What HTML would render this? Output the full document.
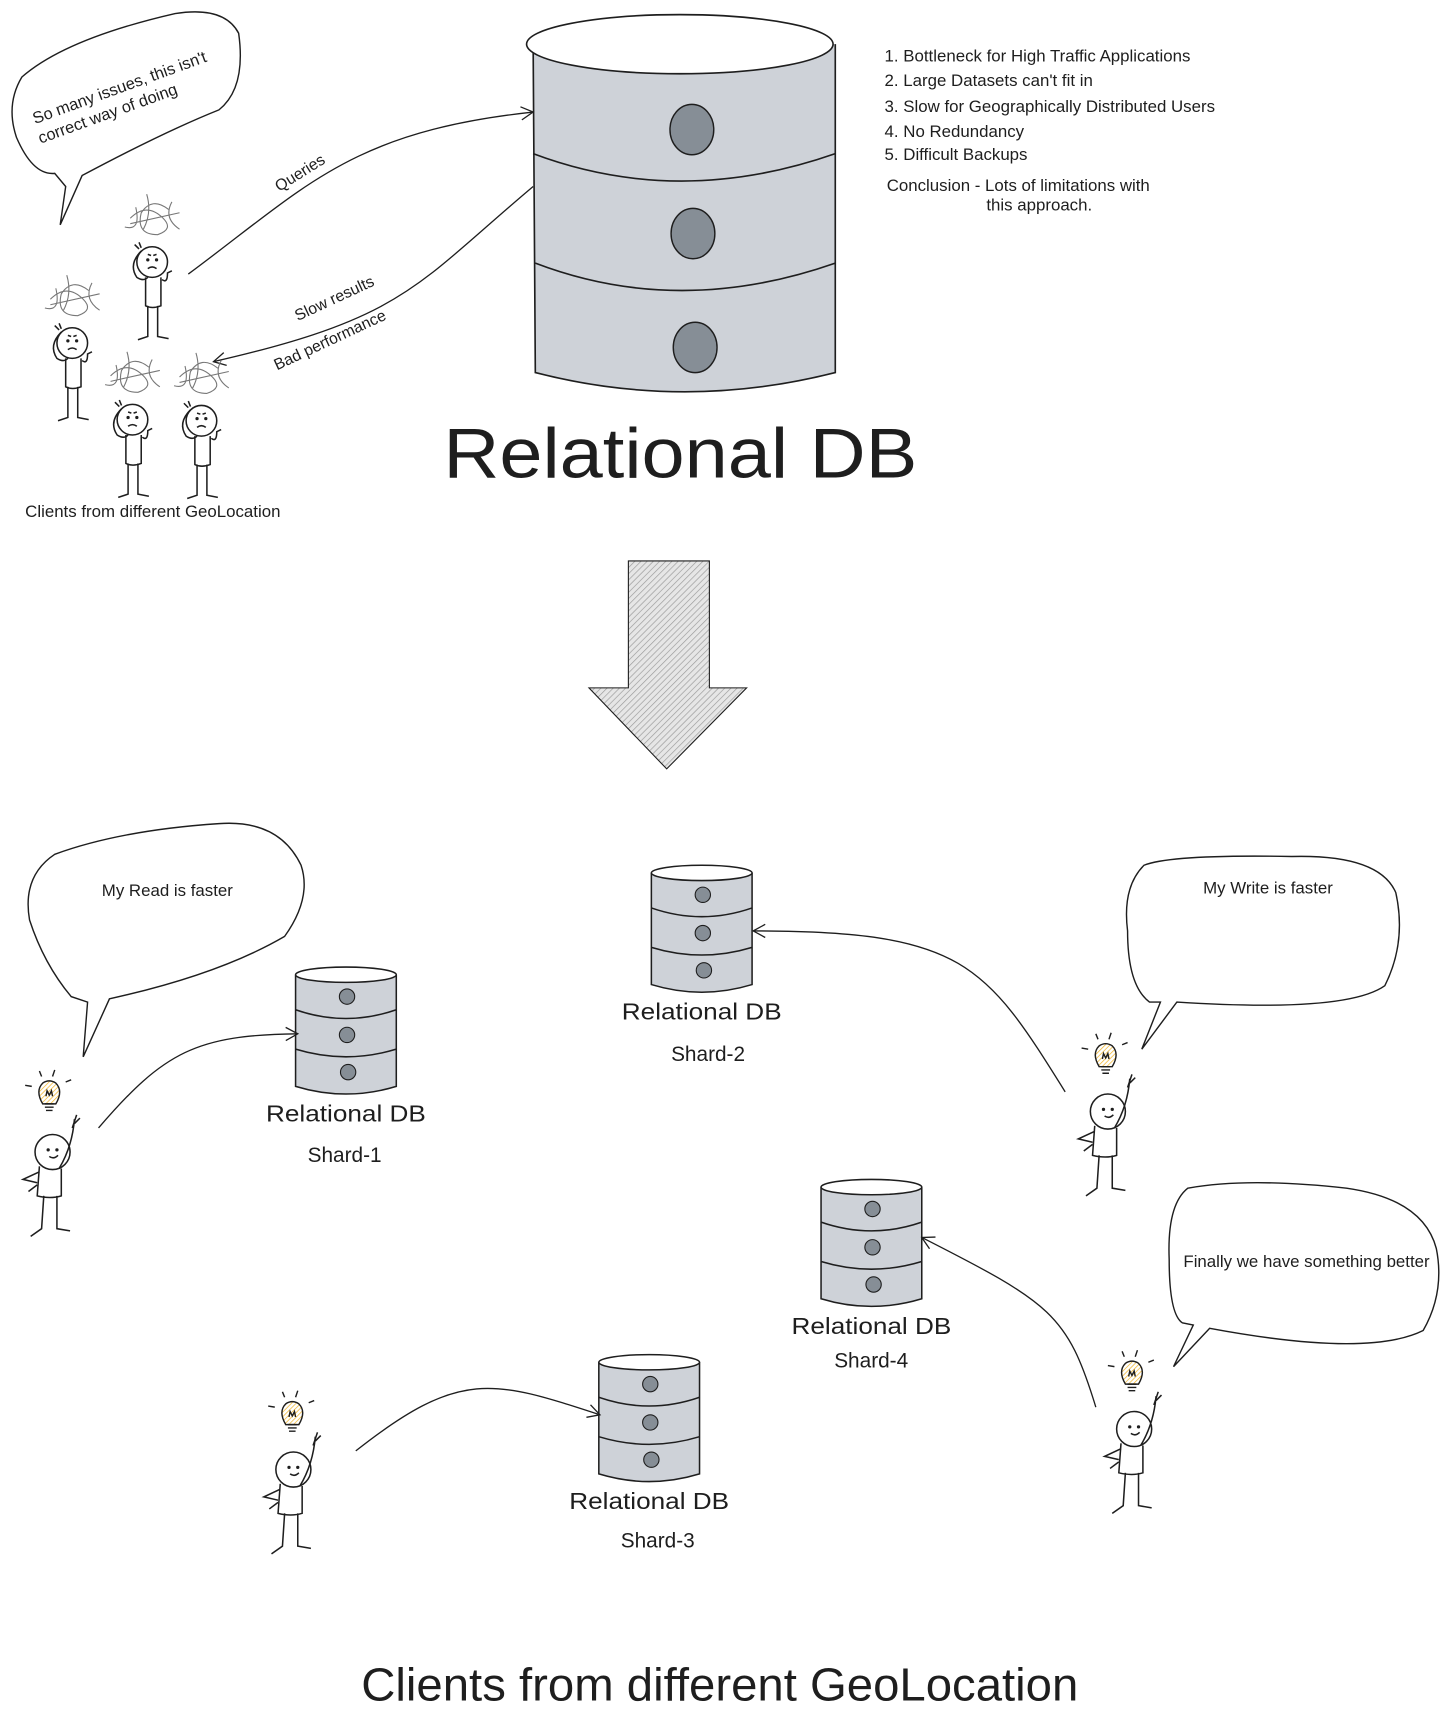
<!DOCTYPE html>
<html><head><meta charset="utf-8"><style>
html,body{margin:0;padding:0;background:#fff;}
svg{display:block;}
text{font-family:"Liberation Sans",sans-serif;fill:#1e1e1e;}
</style></head><body>
<svg width="1456" height="1725" viewBox="0 0 1330 1575" xmlns="http://www.w3.org/2000/svg">
<defs>
<pattern id="hatch" width="4" height="4" patternUnits="userSpaceOnUse" patternTransform="rotate(45)">
<rect width="4" height="4" fill="#e6e6e6"/><line x1="0" y1="0" x2="0" y2="4" stroke="#9a9a9a" stroke-width="1.2"/>
</pattern>
<pattern id="bh" width="3" height="3" patternUnits="userSpaceOnUse" patternTransform="rotate(45)">
<rect width="3" height="3" fill="#fff"/><line x1="0" y1="0" x2="0" y2="3" stroke="#f0b429" stroke-width="1.3"/>
</pattern>
<marker id="ah" markerWidth="14" markerHeight="14" refX="12" refY="7" orient="auto" markerUnits="userSpaceOnUse">
<path d="M1,1 L12,7 L1,13" fill="none" stroke="#1e1e1e" stroke-width="1.2"/>
</marker>
<g id="db">
<path d="M1,8 L1,110 Q47,124 93,110 L93,8" fill="#ced2d8" stroke="#1e1e1e" stroke-width="1.4"/>
<ellipse cx="47" cy="8" rx="46" ry="7" fill="#fff" stroke="#1e1e1e" stroke-width="1.4"/>
<path d="M1,40 Q47,56 93,40 M1,76 Q47,90 93,76" fill="none" stroke="#1e1e1e" stroke-width="1.4"/>
<circle cx="48" cy="28" r="7" fill="#868e96" stroke="#1e1e1e"/>
<circle cx="48" cy="63" r="7" fill="#868e96" stroke="#1e1e1e"/>
<circle cx="49" cy="97" r="7" fill="#868e96" stroke="#1e1e1e"/>
</g>
<g id="happy" fill="none" stroke="#1e1e1e" stroke-width="1.4">
<circle cx="0" cy="0" r="16" fill="#fff"/>
<circle cx="-4" cy="-2" r="0.8" fill="#1e1e1e"/><circle cx="4" cy="-2" r="0.8" fill="#1e1e1e"/>
<path d="M-3,4 Q1,7 5,3"/>
<path d="M-12,13 L-14,40 Q-2,43 8,40 L8,15"/>
<path d="M-12,18 L-27,25 L-14,28 M-14,30 L-22,36"/>
<path d="M6,15 Q18,-5 20,-30 M18,-22 L22,-34 M20,-26 L25,-31"/>
<path d="M-8,40 L-10,70 L-20,77 M4,40 L4,70 L16,72"/>
</g>
<g id="bulb" fill="none" stroke="#1e1e1e" stroke-width="1.3">
<path d="M-6,8 Q-13,-4 -6,-11 Q0,-15 6,-11 Q13,-4 6,8 Z" fill="url(#bh)"/>
<path d="M-4,8 L4,8 M-4,11 L4,11 M-3,14 L3,14 M-3,1 L-2,-4 L0,0 L2,-4 L3,1"/>
<path d="M-9,-22 L-7,-17 M5,-23 L3,-17 M-22,-9 L-16,-8 M15,-12 L20,-14"/>
</g>
<g id="sad" fill="none" stroke="#1e1e1e" stroke-width="1.4">
<circle cx="0" cy="0" r="14" fill="#fff"/>
<circle cx="-4" cy="-2" r="0.8" fill="#1e1e1e"/><circle cx="4" cy="-2" r="0.8" fill="#1e1e1e"/>
<path d="M-4,6 Q0,3 4,6 M-4,-7 L-1,-6 M4,-7 L1,-6"/>
<path d="M-10,-10 Q-22,2 -14,14 Q-8,18 -4,14 M-12,-12 L-16,-16 M-10,-13 L-12,-18"/>
<path d="M-6,14 L-6,40 Q0,43 8,40 L8,14 M9,16 Q14,20 14,10 L18,8"/>
<path d="M-4,40 L-4,68 L-13,71 M5,40 L5,68 L15,70"/>
<g stroke="#777" stroke-width="1">
<path d="M-20,-40 Q-5,-55 10,-40 Q20,-30 5,-25 Q-15,-25 -10,-45 Q0,-60 15,-48 M-25,-32 Q-10,-28 -15,-50 M18,-55 Q10,-40 25,-30 M-5,-62 Q0,-45 -8,-30 M25,-45 L-20,-35"/>
</g>
</g>
</defs>

<path d="M487,40 L489,340 Q625,375 763,340 L763,40" fill="#ced2d8" stroke="#1e1e1e" stroke-width="1.5"/>
<ellipse cx="621" cy="40" rx="140" ry="27" fill="#fff" stroke="#1e1e1e" stroke-width="1.5"/>
<path d="M487,140 Q620,190 763,140 M489,240 Q620,290 763,240" fill="none" stroke="#1e1e1e" stroke-width="1.5"/>
<ellipse cx="632" cy="118" rx="20" ry="23" fill="#868e96" stroke="#1e1e1e" stroke-width="1.3"/>
<ellipse cx="633" cy="213" rx="20" ry="23" fill="#868e96" stroke="#1e1e1e" stroke-width="1.3"/>
<ellipse cx="635" cy="317" rx="20" ry="23" fill="#868e96" stroke="#1e1e1e" stroke-width="1.3"/>
<text x="405" y="436" font-size="64" textLength="433" lengthAdjust="spacingAndGlyphs">Relational DB</text>

<g font-size="15.4">
<text x="808" y="56">1. Bottleneck for High Traffic Applications</text>
<text x="808" y="78">2. Large Datasets can't fit in</text>
<text x="808" y="102">3. Slow for Geographically Distributed Users</text>
<text x="808" y="125">4. No Redundancy</text>
<text x="808" y="146">5. Difficult Backups</text>
<text x="810" y="174">Conclusion - Lots of limitations with</text>
<text x="901" y="192">this approach.</text>
<text x="23" y="472">Clients from different GeoLocation</text>
</g>

<path d="M60,170 L55,205 L75,160 Q150,120 200,100 Q225,80 218,30 Q205,5 160,12 Q60,35 20,70 Q5,95 15,125 Q30,160 50,158 Z" fill="#fff" stroke="#1e1e1e" stroke-width="1.3"/>
<text font-size="15" transform="translate(32,113) rotate(-20)">So many issues, this isn't</text>
<text font-size="15" transform="translate(37,131) rotate(-20)">correct way of doing</text>

<path d="M172,250 C280,170 320,120 487,102" fill="none" stroke="#1e1e1e" stroke-width="1.2" marker-end="url(#ah)"/>
<path d="M487,170 C380,260 370,290 195,330" fill="none" stroke="#1e1e1e" stroke-width="1.2" marker-end="url(#ah)"/>
<text font-size="14.5" transform="translate(255,175) rotate(-32)">Queries</text>
<text font-size="14.5" transform="translate(272,293) rotate(-25)">Slow results</text>
<text font-size="14.5" transform="translate(253,338) rotate(-25)">Bad performance</text>

<use href="#sad" x="139" y="239"/>
<use href="#sad" x="66" y="313"/>
<use href="#sad" x="121" y="383"/>
<use href="#sad" x="184" y="384"/>

<path d="M574,512 L648,512 L648,628 L682,628 L609,702 L538,628 L574,628 Z" fill="url(#hatch)" stroke="#1e1e1e" stroke-width="1"/>

<path d="M80,915 L76,965 L100,912 Q200,890 260,855 Q285,820 275,790 Q255,748 200,752 Q110,758 50,780 Q20,800 27,840 Q40,880 65,910 Z" fill="#fff" stroke="#1e1e1e" stroke-width="1.3"/>
<text x="93" y="818" font-size="15.4">My Read is faster</text>
<path d="M1060,915 L1043,958 L1075,915 Q1230,925 1265,900 Q1285,860 1275,815 Q1260,780 1180,782 Q1070,780 1045,790 Q1025,810 1030,850 Q1030,900 1050,915 Z" fill="#fff" stroke="#1e1e1e" stroke-width="1.3"/>
<text x="1099" y="816" font-size="15.4">My Write is faster</text>
<path d="M1090,1210 L1072,1248 L1105,1213 Q1250,1240 1300,1215 Q1320,1180 1312,1140 Q1300,1095 1230,1085 Q1140,1075 1085,1085 Q1066,1100 1068,1150 Q1068,1200 1080,1208 Z" fill="#fff" stroke="#1e1e1e" stroke-width="1.3"/>
<text x="1081" y="1157" font-size="15.4">Finally we have something better</text>

<use href="#db" x="269" y="882"/>
<use href="#db" x="594" y="789"/>
<use href="#db" x="546" y="1236"/>
<use href="#db" x="749" y="1076"/>
<g font-size="21">
<text x="243" y="1024" textLength="146" lengthAdjust="spacingAndGlyphs">Relational DB</text>
<text x="568" y="931" textLength="146" lengthAdjust="spacingAndGlyphs">Relational DB</text>
<text x="520" y="1378" textLength="146" lengthAdjust="spacingAndGlyphs">Relational DB</text>
<text x="723" y="1218" textLength="146" lengthAdjust="spacingAndGlyphs">Relational DB</text>
</g>
<g font-size="19">
<text x="281" y="1061">Shard-1</text>
<text x="613" y="969">Shard-2</text>
<text x="567" y="1413">Shard-3</text>
<text x="762" y="1249">Shard-4</text>
</g>

<g fill="none" stroke="#1e1e1e" stroke-width="1.2">
<path d="M90,1030 C150,960 180,945 272,944" marker-end="url(#ah)"/>
<path d="M973,997 C900,880 880,850 688,850" marker-end="url(#ah)"/>
<path d="M325,1325 C420,1250 450,1260 548,1292" marker-end="url(#ah)"/>
<path d="M1001,1285 C975,1200 960,1190 842,1130" marker-end="url(#ah)"/>
</g>

<use href="#bulb" x="45" y="1000"/><use href="#happy" x="48" y="1052"/>
<use href="#bulb" x="1010" y="966"/><use href="#happy" x="1012" y="1015"/>
<use href="#bulb" x="1034" y="1256"/><use href="#happy" x="1036" y="1305"/>
<use href="#bulb" x="267" y="1293"/><use href="#happy" x="268" y="1342"/>

<text x="330" y="1553" font-size="42" textLength="655" lengthAdjust="spacingAndGlyphs">Clients from different GeoLocation</text>
</svg>
</body></html>
